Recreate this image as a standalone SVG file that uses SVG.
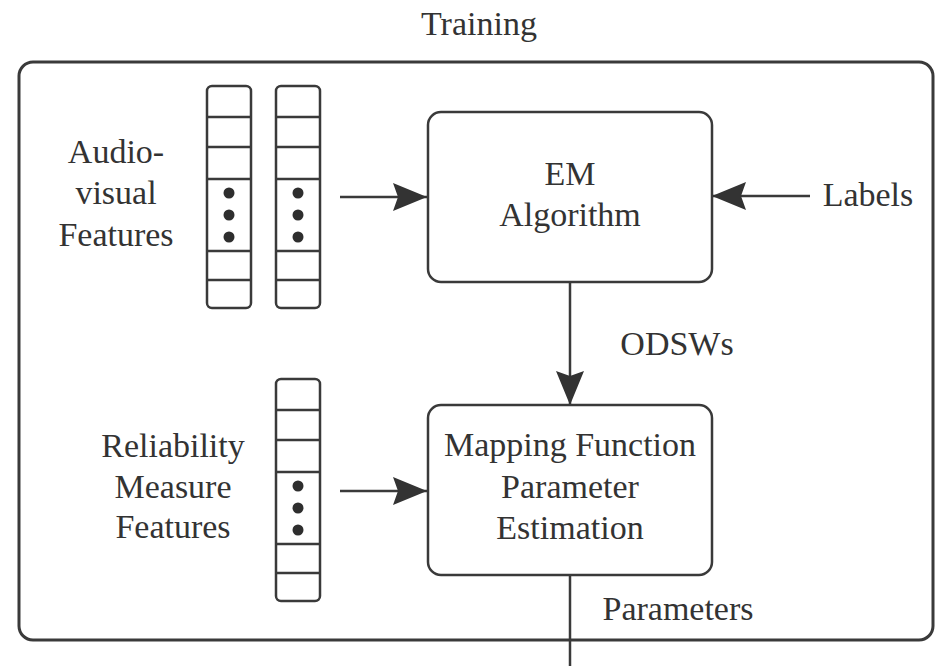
<svg xmlns="http://www.w3.org/2000/svg" width="936" height="666" viewBox="0 0 936 666">
  <style>
    .lbl { font-family: 'Liberation Serif', 'DejaVu Serif', 'Noto Serif', serif; font-size: 34px; fill: #333; text-anchor: middle; }
    .frame { fill: none; stroke: #3a3a3a; stroke-width: 3; }
    .box { fill: #fff; stroke: #3a3a3a; stroke-width: 2.5; }
    .cell { fill: #fff; stroke: #3a3a3a; stroke-width: 2.5; }
    .div { stroke: #3a3a3a; stroke-width: 2.5; }
    .dot { fill: #2e2e2e; }
    .wire { fill: none; stroke: #3a3a3a; stroke-width: 2.5; }
  </style>
  <defs>
    <marker id="arrow" viewBox="0 0 34 28" refX="34" refY="14" markerWidth="34" markerHeight="28" markerUnits="userSpaceOnUse" orient="auto">
      <path d="M0,0 L34,14 L0,28 L5,14 Z" fill="#333"/>
    </marker>
    <!-- feature vector: 44 x 222 column with six cells, dots in the fourth -->
    <g id="vec">
      <rect class="cell" x="0" y="0" width="44" height="222" rx="5"/>
      <line class="div" x1="0" y1="31" x2="44" y2="31"/>
      <line class="div" x1="0" y1="61" x2="44" y2="61"/>
      <line class="div" x1="0" y1="93" x2="44" y2="93"/>
      <line class="div" x1="0" y1="165" x2="44" y2="165"/>
      <line class="div" x1="0" y1="194" x2="44" y2="194"/>
      <circle class="dot" cx="22" cy="107" r="5.5"/>
      <circle class="dot" cx="22" cy="129" r="5.5"/>
      <circle class="dot" cx="22" cy="151" r="5.5"/>
    </g>
  </defs>

  <rect width="936" height="666" fill="#fff"/>

  <g id="training">
    <text class="lbl" x="479" y="35">Training</text>
    <rect class="frame" x="19" y="62" width="914" height="578" rx="14"/>
  </g>

  <g id="connectors">
    <line class="wire" x1="340" y1="197" x2="427" y2="197" marker-end="url(#arrow)"/>
    <line class="wire" x1="810" y1="196" x2="712" y2="196" marker-end="url(#arrow)"/>
    <line class="wire" x1="570" y1="282" x2="570" y2="405" marker-end="url(#arrow)"/>
    <line class="wire" x1="340" y1="491" x2="427" y2="491" marker-end="url(#arrow)"/>
    <line class="wire" x1="570" y1="575" x2="570" y2="666"/>
  </g>

  <g id="av-features">
    <text class="lbl" x="116" y="163">Audio-</text>
    <text class="lbl" x="116" y="204">visual</text>
    <text class="lbl" x="116" y="246">Features</text>
    <use href="#vec" x="207" y="86"/>
    <use href="#vec" x="276" y="86"/>
  </g>

  <g id="rm-features">
    <text class="lbl" x="173" y="457">Reliability</text>
    <text class="lbl" x="173" y="498">Measure</text>
    <text class="lbl" x="173" y="538">Features</text>
    <use href="#vec" x="276" y="379"/>
  </g>

  <g id="em">
    <rect class="box" x="428" y="112" width="284" height="170" rx="13"/>
    <text class="lbl" x="570" y="185">EM</text>
    <text class="lbl" x="570" y="226">Algorithm</text>
  </g>

  <g id="labels">
    <text class="lbl" x="868" y="206">Labels</text>
  </g>

  <g id="odsws">
    <text class="lbl" x="677" y="355">ODSWs</text>
  </g>

  <g id="mapping">
    <rect class="box" x="428" y="405" width="284" height="170" rx="13"/>
    <text class="lbl" x="570" y="456">Mapping Function</text>
    <text class="lbl" x="570" y="498">Parameter</text>
    <text class="lbl" x="570" y="539">Estimation</text>
  </g>

  <g id="parameters">
    <text class="lbl" x="678" y="620">Parameters</text>
  </g>
</svg>
